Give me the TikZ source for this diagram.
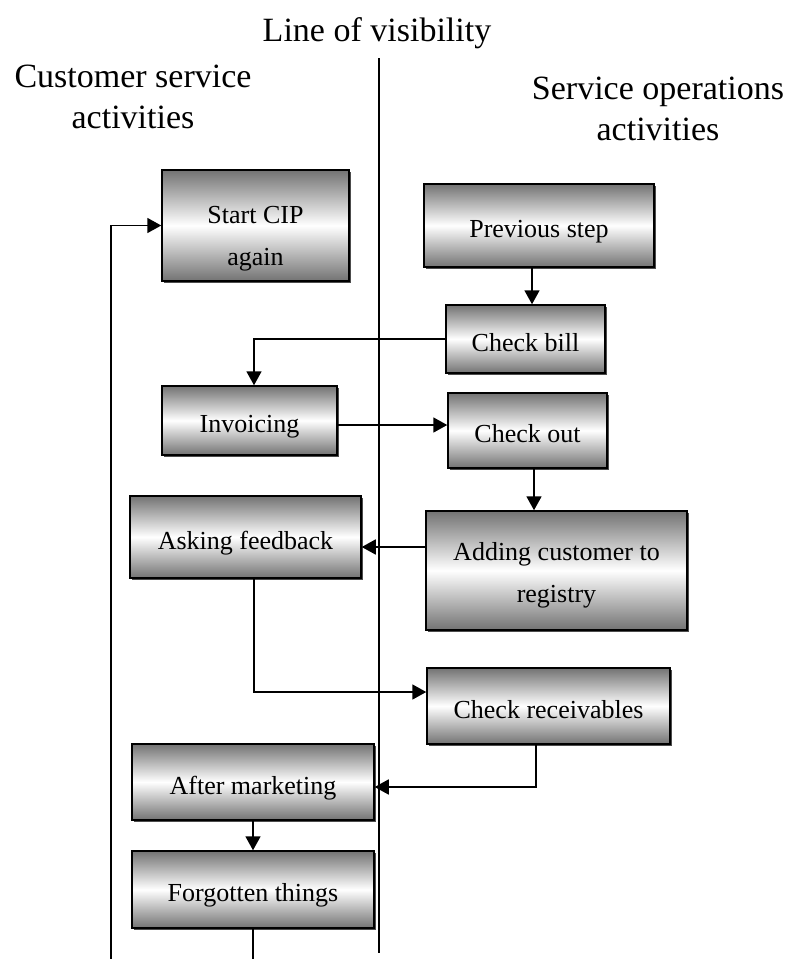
\documentclass[tikz,border=0pt]{standalone}
\usepackage{fontspec}
\setmainfont{Liberation Serif}
\usetikzlibrary{arrows.meta,positioning,shadows}

\begin{document}
\begin{tikzpicture}[x=1pt, y=-1pt,
  blk/.style={draw, line width=1.5pt, align=center, inner sep=0pt,
    top color=black!55, bottom color=black!55, middle color=white,
    drop shadow={shadow xshift=1.5pt, shadow yshift=-1.5pt, opacity=1, fill=black!70},
    font=\fontsize{26}{42}\selectfont, text depth=6pt},
  one/.style={blk, text height=30pt},
  hdr/.style={align=center, font=\fontsize{34}{41}\selectfont},
  lnk/.style={line width=1.8pt},
  arr/.style={lnk, -{Triangle[length=14pt,width=15pt]}},
]
\useasboundingbox (0,0) rectangle (786,959);

% headings and line of visibility
\node[hdr, anchor=base] (vislbl) at (377,41) {Line of visibility};
\node[hdr, anchor=base] (custlbl) at (133,128) {Customer service\\activities};
\node[hdr, anchor=base] (opslbl) at (658,140) {Service operations\\activities};
\coordinate (vtop) at (379,58);
\coordinate (vbot) at (379,953);
\draw[lnk, line width=1.5pt] (vtop) -- (vbot);

% steps
\node[blk, text height=85pt, minimum width=187pt, minimum height=111pt] (start) at (255.5,225.5) {Start CIP\\again};
\node[one, minimum width=230pt, minimum height=83pt] (prev) at (539,225.5) {Previous step};
\node[one, minimum width=159pt, minimum height=68pt] (bill) at (525.5,339) {Check bill};
\node[one, minimum width=175pt, minimum height=69pt] (invoice) at (249.5,420.5) {Invoicing};
\node[one, minimum width=159pt, minimum height=75pt] (checkout) at (527.5,430.5) {Check out};
\node[blk, text height=69pt, minimum width=261pt, minimum height=119pt] (registry) at (556.5,570.5) {Adding customer to\\registry};
\node[one, minimum width=231pt, minimum height=82pt] (feedback) at (245.5,537) {Asking feedback};
\node[one, minimum width=243pt, minimum height=76pt] (receiv) at (548.5,706) {Check receivables};
\node[one, minimum width=242pt, minimum height=76pt] (aftermkt) at (253,782) {After marketing};
\node[one, minimum width=242pt, minimum height=77pt] (forgot) at (253,889.5) {Forgotten things};

% flow
\draw[arr] ([xshift=-7pt]prev.south) -- ([xshift=6.5pt]bill.north);
\draw[arr] (bill.west) -| ([xshift=4.5pt]invoice.north);
\draw[arr] ([yshift=-4.5pt]invoice.east) -- ([yshift=5.5pt]checkout.west);
\draw[arr] ([xshift=6.5pt]checkout.south) -- ([xshift=-22.5pt]registry.north);
\draw[arr] ([yshift=23.5pt]registry.west) -- ([yshift=-10pt]feedback.east);
\draw[arr] ([xshift=8.5pt]feedback.south) |- ([yshift=14pt]receiv.west);
\draw[arr] ([xshift=-12.5pt]receiv.south) |- ([yshift=-5pt]aftermkt.east);
\draw[arr] (aftermkt.south) -- (forgot.north);
\coordinate (back) at (111,959);
\draw[lnk] (forgot.south) -- (forgot.south |- back);
\draw[arr] (back) |- (start.west);
\end{tikzpicture}
\end{document}
